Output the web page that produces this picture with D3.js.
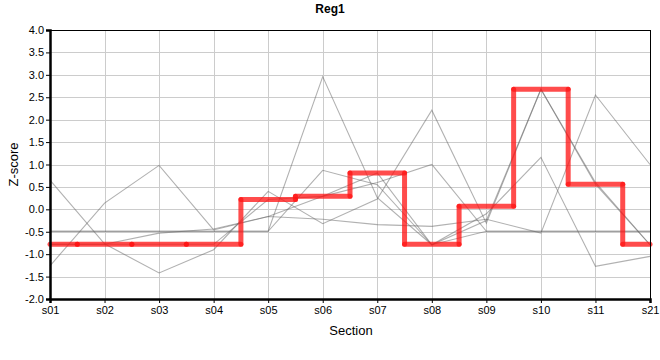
<!DOCTYPE html>
<html>
<head>
<meta charset="utf-8">
<script src="https://cdn.jsdelivr.net/npm/d3@7"></script>
<style>
  html, body { margin: 0; padding: 0; background: #fff; }
  svg { display: block; font-family: "Liberation Sans", Arial, sans-serif; }
</style>
</head>
<body>
<svg id="chart" width="660" height="360"></svg>
<script>
const categories = ["s01","s02","s03","s04","s05","s06","s07","s08","s09","s10","s11","s21"];
const yTicks = [-2.0,-1.5,-1.0,-0.5,0.0,0.5,1.0,1.5,2.0,2.5,3.0,3.5,4.0];

const reg1 = [-0.78,-0.78,-0.78,-0.78,0.22,0.29,0.81,-0.78,0.07,2.68,0.56,-0.78];

const other1 = [0.65,-0.77,-1.42,-0.90,0.40,-0.32,0.23,2.21,-0.31,2.68,0.60,-0.79];
const other2 = [-1.26,0.14,0.98,-0.46,-0.16,-0.22,-0.34,-0.38,-0.22,-0.53,2.55,1.00];
const other3 = [-0.78,-0.78,-0.53,-0.44,-0.16,0.29,0.81,-0.79,-0.25,2.68,0.56,-0.79];
const other4 = [-0.49,-0.49,-0.49,-0.49,-0.49,2.96,0.26,-0.79,-0.10,1.16,-1.27,-1.05];
const other5 = [-0.49,-0.49,-0.49,-0.49,-0.49,0.87,0.55,-0.79,-0.49,-0.49,-0.49,-0.49];
const other6 = [-0.78,-0.78,-0.78,-0.78,0.22,0.29,0.60,1.00,-0.49,-0.49,-0.49,-0.49];
const others = [other1, other2, other3, other4, other5, other6];

const svg = d3.select("#chart");
const L = 50, R = 650, T = 30, B = 299;

const x = d3.scalePoint().domain(categories).range([L, R]);
const y = d3.scaleLinear().domain([-2, 4]).range([B, T]);

// grid
const grid = svg.append("g");
grid.selectAll("line.h").data(yTicks).join("line")
  .attr("x1", L).attr("x2", R)
  .attr("y1", d => Math.round(y(d)) + 0.5).attr("y2", d => Math.round(y(d)) + 0.5)
  .attr("stroke", "#cccccc").attr("stroke-width", 1);
grid.selectAll("line.v").data(categories).join("line")
  .attr("x1", d => Math.round(x(d)) + 0.5).attr("x2", d => Math.round(x(d)) + 0.5)
  .attr("y1", T).attr("y2", B)
  .attr("stroke", "#cccccc").attr("stroke-width", 1);

// grey series
const line = d3.line().x((d, i) => x(categories[i])).y(d => y(d));
svg.append("g").selectAll("path").data(others).join("path")
  .attr("d", d => line(d))
  .attr("fill", "none")
  .attr("stroke", "rgba(100,100,100,0.5)")
  .attr("stroke-width", 1.1);

// red step series drawn as separate translucent segments
const step = x.step();
const segs = [];
reg1.forEach((v, i) => {
  const x0 = i === 0 ? x(categories[0]) : x(categories[i]) - step / 2;
  const x1 = i === reg1.length - 1 ? x(categories[i]) : x(categories[i]) + step / 2;
  segs.push([x0, y(v), x1, y(v)]);
  if (i < reg1.length - 1) segs.push([x1, y(v), x1, y(reg1[i + 1])]);
});
svg.append("g").selectAll("line").data(segs).join("line")
  .attr("x1", d => d[0]).attr("y1", d => d[1])
  .attr("x2", d => d[2]).attr("y2", d => d[3])
  .attr("stroke", "rgba(255,20,20,0.76)")
  .attr("stroke-width", 5)
  .attr("stroke-linecap", "round");

// border
svg.append("line").attr("x1", L).attr("x2", R).attr("y1", T + 0.5).attr("y2", T + 0.5)
  .attr("stroke", "#000").attr("stroke-width", 1);
svg.append("line").attr("x1", R + 0.5).attr("x2", R + 0.5).attr("y1", T).attr("y2", B)
  .attr("stroke", "#000").attr("stroke-width", 1);

// axes
const yAxis = d3.axisLeft(y).tickValues(yTicks).tickFormat(d => d.toFixed(1)).tickSize(4).tickPadding(2);
const gy = svg.append("g").attr("transform", `translate(${L},0)`).call(yAxis);
gy.select(".domain").attr("stroke", "#000").attr("stroke-width", 2.5);
gy.selectAll(".tick line").attr("stroke", "#000");
gy.selectAll(".tick text").attr("font-size", 11).attr("fill", "#000")
  .attr("font-family", "'Liberation Sans', Arial, sans-serif");

const xAxis = d3.axisBottom(x).tickSize(4).tickPadding(3);
const gx = svg.append("g").attr("transform", `translate(0,${B})`).call(xAxis);
gx.select(".domain").attr("stroke", "#000").attr("stroke-width", 2.5);
gx.selectAll(".tick line").attr("stroke", "#000");
gx.selectAll(".tick text").attr("font-size", 11).attr("fill", "#000")
  .attr("font-family", "'Liberation Sans', Arial, sans-serif");

// titles
svg.append("text").attr("x", 330).attr("y", 13).attr("text-anchor", "middle")
  .attr("font-size", 12).attr("font-weight", "bold").attr("fill", "#000").text("Reg1");
svg.append("text").attr("x", 351).attr("y", 335).attr("text-anchor", "middle")
  .attr("font-size", 13).attr("fill", "#000").text("Section");
svg.append("text").attr("transform", `translate(18,${(T + B) / 2}) rotate(-90)`)
  .attr("text-anchor", "middle").attr("font-size", 13).attr("fill", "#000").text("Z-score");
</script>
</body>
</html>
